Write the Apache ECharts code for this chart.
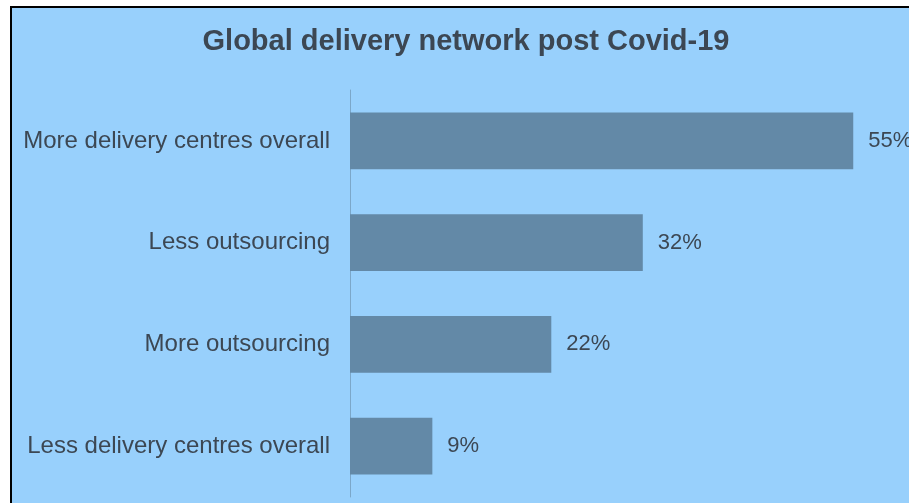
<!DOCTYPE html>
<html>
<head>
<meta charset="utf-8">
<script src="https://cdn.jsdelivr.net/npm/echarts@6/dist/echarts.min.js"></script>
<style>
  html, body { margin: 0; padding: 0; background: #ffffff; }
  #chart { width: 909px; height: 503px; }
</style>
</head>
<body>
<div id="chart"></div>
<script>
// Survey answers, listed top to bottom
const categories = [
  'More delivery centres overall',
  'Less outsourcing',
  'More outsourcing',
  'Less delivery centres overall'
];
const shares = [55, 32, 22, 9];
const titleText = 'Global delivery network post Covid-19';

const textColor = '#3c4753';
const fontFamily = '"Liberation Sans", Arial, sans-serif';

const chart = echarts.init(document.getElementById('chart'), null, { renderer: 'canvas' });

chart.setOption({
  backgroundColor: '#ffffff',
  animation: false,
  graphic: [{
    type: 'rect',
    z: -10,
    shape: { x: 11, y: 7, width: 940, height: 540 },
    style: { fill: '#98d0fc', stroke: '#000000', lineWidth: 2 }
  }],
  title: {
    text: titleText,
    left: 466,
    top: 27,
    textAlign: 'center',
    padding: 0,
    textStyle: {
      fontFamily: fontFamily,
      fontSize: 29,
      fontWeight: 'bold',
      color: textColor
    }
  },
  grid: { left: 350, right: 10, top: 90, bottom: 6, containLabel: false },
  xAxis: {
    type: 'value',
    min: 0,
    max: 60,
    show: false
  },
  yAxis: {
    type: 'category',
    data: categories,
    inverse: true,
    axisLine: { show: true, lineStyle: { color: '#7ba7c9', width: 1 } },
    axisTick: { show: false },
    splitLine: { show: false },
    axisLabel: {
      margin: 20,
      fontFamily: fontFamily,
      fontSize: 24,
      color: textColor
    }
  },
  series: [{
    type: 'bar',
    data: shares,
    barCategoryGap: '44%',
    itemStyle: { color: '#6389a7' },
    label: {
      show: true,
      position: 'right',
      distance: 15,
      formatter: '{c}%',
      fontFamily: fontFamily,
      fontSize: 22,
      color: textColor
    }
  }]
});
</script>
</body>
</html>
